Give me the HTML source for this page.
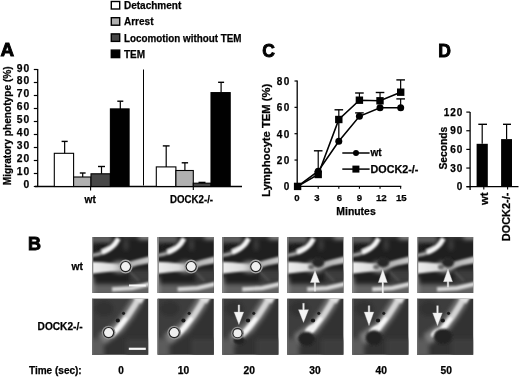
<!DOCTYPE html>
<html><head><meta charset="utf-8"><style>
html,body{margin:0;padding:0;background:#fff;}
body{width:520px;height:378px;overflow:hidden;}
svg{display:block;}
</style></head><body>
<svg width="520" height="378" viewBox="0 0 520 378" font-family="Liberation Sans" font-weight="bold">
<rect width="520" height="378" fill="#fff"/>
<defs>
<filter id="b1" x="-20%" y="-20%" width="140%" height="140%"><feGaussianBlur stdDeviation="1.3"/></filter>
<filter id="b2" x="-20%" y="-20%" width="140%" height="140%"><feGaussianBlur stdDeviation="2.2"/></filter>
<filter id="b05" x="-20%" y="-20%" width="140%" height="140%"><feGaussianBlur stdDeviation="0.6"/></filter>
<linearGradient id="band1" x1="0" y1="0" x2="1" y2="0">
 <stop offset="0" stop-color="#eeeeee"/><stop offset="0.38" stop-color="#dcdcdc"/><stop offset="0.55" stop-color="#a6a6a6"/><stop offset="0.75" stop-color="#b8b8b8"/><stop offset="1" stop-color="#c8c8c8"/>
</linearGradient>
<linearGradient id="r2bg" x1="0" y1="0" x2="1" y2="1">
 <stop offset="0" stop-color="#3e3e3e"/><stop offset="0.5" stop-color="#6a6a6a"/><stop offset="1" stop-color="#8a8a8a"/>
</linearGradient>
<linearGradient id="r2dk" x1="0" y1="0" x2="0" y2="1">
 <stop offset="0" stop-color="#2e2e2e"/><stop offset="1" stop-color="#4a4a4a"/>
</linearGradient>
<clipPath id="tc"><rect x="0" y="0" width="56.2" height="56"/></clipPath>
<g id="s1">
 <rect x="-3" y="-3" width="63" height="63" fill="#1f1f1f"/>
 <g filter="url(#b2)">
  <rect x="-2" y="-2" width="22" height="8" fill="#5e5e5e"/>
  <rect x="47" y="-2" width="12" height="4.5" fill="#9a9a9a"/>
  <rect x="28" y="-2" width="19" height="3" fill="#444"/>
  <rect x="32.5" y="3" width="3" height="10" fill="#4e4e4e"/>
  <rect x="38" y="33" width="22" height="12" fill="#3e3e3e"/>
  <rect x="-2" y="47" width="62" height="12" fill="#626262"/>
  <rect x="-2" y="40" width="4" height="18" fill="#8a8a8a"/>
  <ellipse cx="28" cy="30" rx="9" ry="6" fill="#909090"/>
 </g>
 <g filter="url(#b1)">
  <ellipse cx="11" cy="10.5" rx="7" ry="3.2" fill="#1e1e1e"/>
  <path d="M-2,24.8 L10,25.3 L20,26.3 L27,27.5 L34,25.5 L45,22.5 L58,19.3 L58,26 L45,28.5 L38,31 L28,33.5 L20,34.5 L10,35.6 L-2,37.2 Z" fill="url(#band1)"/>
  <path d="M-2,19 C4,18.2 9,16.8 14,14.5" fill="none" stroke="#a0a0a0" stroke-width="3.4"/>
  <path d="M10,15.5 C16,13.5 20,10.5 23,7 L26.5,1.5" fill="none" stroke="#f4f4f4" stroke-width="5"/>
  <path d="M20,52.5 L40,51.2 L58,47" fill="none" stroke="#d6d6d6" stroke-width="4.2"/>
  <path d="M38,35 L47,44" stroke="#505050" stroke-width="2.2"/>
 </g>
 <rect x="0" y="0" width="1.3" height="56" fill="#8c8c8c" filter="url(#b05)"/>
</g>
<g id="s2">
 <rect x="-3" y="-3" width="63" height="63" fill="#323232"/>
 <g filter="url(#b2)">
  <path d="M-3,-3 L50,-3 L22,37 L-3,44 Z" fill="#3c3c3c"/>
  <rect x="-3" y="40" width="15" height="19" fill="#5c5c5c"/>
  <rect x="34" y="40" width="26" height="19" fill="#3e3e3e"/>
  <path d="M10,41 L27,29 L36,17 L43,6 L47,-2" fill="none" stroke="#7e7e7e" stroke-width="11"/>
  <ellipse cx="12" cy="10" rx="10" ry="8" fill="#323232"/>
 </g>
 <g filter="url(#b1)">
  <path d="M19,37 L27,29 L36,17 L43,6 L47,-1" fill="none" stroke="#d4d4d4" stroke-width="5.8"/>
  <path d="M40,-2 L54,-2 L49,5 Z" fill="#e0e0e0"/>
  <path d="M22,34 L34,19" fill="none" stroke="#f6f6f6" stroke-width="5"/>
 </g>
 <g filter="url(#b05)">
  <circle cx="25.8" cy="21.8" r="2.1" fill="#151515"/>
  <circle cx="31.5" cy="14.6" r="1.6" fill="#1e1e1e"/>
 </g>
 <rect x="0" y="0" width="1.3" height="56" fill="#6a6a6a" filter="url(#b05)"/>
</g>
</defs>
<g transform="translate(92,236.9)" clip-path="url(#tc)"><use href="#s1"/>
<g filter="url(#b05)"><circle cx="33.6" cy="29.7" r="7.0" fill="#a8a8a8"/><circle cx="33.6" cy="29.7" r="5.6" fill="#222"/><circle cx="33.6" cy="29.7" r="4.5" fill="#f0f0f0"/></g>
<rect x="37" y="47.6" width="16.8" height="2" fill="#f8f8f8"/>
</g>
<g transform="translate(92,298.7)" clip-path="url(#tc)"><use href="#s2"/>
<g filter="url(#b05)"><circle cx="16.6" cy="33.9" r="6.9" fill="#909090"/><circle cx="16.6" cy="33.9" r="5.6" fill="#222"/><circle cx="16.6" cy="33.9" r="4.5" fill="#f0f0f0"/></g>
<rect x="36.8" y="49" width="17" height="2.2" fill="#f8f8f8"/>
</g>
<g transform="translate(157.6,236.9)" clip-path="url(#tc)"><use href="#s1"/>
<g filter="url(#b05)"><circle cx="33.6" cy="29.7" r="7.0" fill="#a8a8a8"/><circle cx="33.6" cy="29.7" r="5.6" fill="#222"/><circle cx="33.6" cy="29.7" r="4.5" fill="#f0f0f0"/></g>
</g>
<g transform="translate(157.6,298.7)" clip-path="url(#tc)"><use href="#s2"/>
<g filter="url(#b05)"><circle cx="16.6" cy="33.9" r="6.9" fill="#909090"/><circle cx="16.6" cy="33.9" r="5.6" fill="#222"/><circle cx="16.6" cy="33.9" r="4.5" fill="#f0f0f0"/></g>
</g>
<g transform="translate(222.2,236.9)" clip-path="url(#tc)"><use href="#s1"/>
<g filter="url(#b05)"><circle cx="33.6" cy="29.7" r="7.0" fill="#a8a8a8"/><circle cx="33.6" cy="29.7" r="5.6" fill="#222"/><circle cx="33.6" cy="29.7" r="4.5" fill="#f0f0f0"/></g>
</g>
<g transform="translate(222.2,298.7)" clip-path="url(#tc)"><use href="#s2"/>
<g filter="url(#b1)"><ellipse cx="17" cy="42" rx="6" ry="4" fill="#242424"/></g>
<g filter="url(#b05)"><circle cx="15.3" cy="34.5" r="6.4" fill="#909090"/><circle cx="15.3" cy="34.5" r="5.1" fill="#222"/><circle cx="15.3" cy="34.5" r="4.0" fill="#f0f0f0"/></g>
<path d="M16.7,25.8 L21.5,13.4 L17.5,13.4 L17.5,6.2 L15.899999999999999,6.2 L15.899999999999999,13.4 L11.899999999999999,13.4 Z" fill="#f4f4f4" stroke="#ccc" stroke-width="0.4"/>
</g>
<g transform="translate(287.2,236.9)" clip-path="url(#tc)"><use href="#s1"/>
<g filter="url(#b1)"><ellipse cx="31" cy="25.5" rx="6" ry="5" fill="#282828"/><ellipse cx="24" cy="30" rx="3" ry="2.5" fill="#6a6a6a"/></g>
<path d="M27.8,33.7 L32.4,45.6 L28.6,45.6 L28.6,54.3 L27.0,54.3 L27.0,45.6 L23.200000000000003,45.6 Z" fill="#f4f4f4" stroke="#ccc" stroke-width="0.4"/>
</g>
<g transform="translate(287.2,298.7)" clip-path="url(#tc)"><use href="#s2"/>
<g filter="url(#b1)"><ellipse cx="23" cy="30" rx="6" ry="3" transform="rotate(-35 23 30)" fill="#f0f0f0"/></g>
<g filter="url(#b1)"><ellipse cx="19.2" cy="40.0" rx="8.5" ry="7" fill="#222"/></g>
<path d="M16.3,23.7 L21.3,11.0 L17.1,11.0 L17.1,4.6 L15.5,4.6 L15.5,11.0 L11.3,11.0 Z" fill="#f4f4f4" stroke="#ccc" stroke-width="0.4"/>
</g>
<g transform="translate(352.2,236.9)" clip-path="url(#tc)"><use href="#s1"/>
<g filter="url(#b1)"><ellipse cx="31" cy="25.5" rx="6" ry="5" fill="#282828"/><ellipse cx="24" cy="30" rx="3" ry="2.5" fill="#6a6a6a"/></g>
<path d="M30.6,32.6 L35.1,45.6 L31.400000000000002,45.6 L31.400000000000002,56 L29.8,56 L29.8,45.6 L26.1,45.6 Z" fill="#f4f4f4" stroke="#ccc" stroke-width="0.4"/>
</g>
<g transform="translate(352.2,298.7)" clip-path="url(#tc)"><use href="#s2"/>
<g filter="url(#b1)"><ellipse cx="22" cy="31" rx="6" ry="3" transform="rotate(-35 22 31)" fill="#f0f0f0"/></g>
<g filter="url(#b1)"><ellipse cx="21.8" cy="39.0" rx="8.5" ry="7.5" fill="#222"/></g>
<path d="M16.8,26.9 L21.6,13.4 L17.6,13.4 L17.6,7.0 L16.0,7.0 L16.0,13.4 L12.0,13.4 Z" fill="#f4f4f4" stroke="#ccc" stroke-width="0.4"/>
</g>
<g transform="translate(417.0,236.9)" clip-path="url(#tc)"><use href="#s1"/>
<g filter="url(#b1)"><ellipse cx="31" cy="25.5" rx="6" ry="5" fill="#282828"/><ellipse cx="24" cy="30" rx="3" ry="2.5" fill="#6a6a6a"/></g>
<path d="M31.0,32.1 L35.5,44.8 L31.8,44.8 L31.8,50.4 L30.2,50.4 L30.2,44.8 L26.5,44.8 Z" fill="#f4f4f4" stroke="#ccc" stroke-width="0.4"/>
</g>
<g transform="translate(417.0,298.7)" clip-path="url(#tc)"><use href="#s2"/>
<g filter="url(#b1)"><ellipse cx="19" cy="34" rx="6" ry="3" transform="rotate(-35 19 34)" fill="#f0f0f0"/></g>
<g filter="url(#b1)"><ellipse cx="26.0" cy="37.7" rx="9.4" ry="7.6" fill="#222"/></g>
<path d="M20.5,26.9 L25.3,14.2 L21.3,14.2 L21.3,7.0 L19.7,7.0 L19.7,14.2 L15.7,14.2 Z" fill="#f4f4f4" stroke="#ccc" stroke-width="0.4"/>
</g>
<g opacity="0.999" stroke-linecap="butt">
<text x="0.4" y="56.4" font-size="17.5" text-anchor="start" textLength="13.6" lengthAdjust="spacingAndGlyphs" stroke="#000" stroke-width="0.9" >A</text>
<rect x="111.3" y="1.5" width="8.4" height="7.5" fill="#ffffff" stroke="#000" stroke-width="1.4"/>
<text x="124" y="9.2" font-size="10" text-anchor="start" stroke="#000" stroke-width="0.25" >Detachment</text>
<rect x="111.3" y="17.7" width="8.4" height="7.5" fill="#b0b0b0" stroke="#000" stroke-width="1.4"/>
<text x="124" y="25.4" font-size="10" text-anchor="start" stroke="#000" stroke-width="0.25" >Arrest</text>
<rect x="111.3" y="33.9" width="8.4" height="7.5" fill="#474747" stroke="#000" stroke-width="1.4"/>
<text x="124" y="41.599999999999994" font-size="10" text-anchor="start" textLength="117.5" lengthAdjust="spacingAndGlyphs" stroke="#000" stroke-width="0.25" >Locomotion without TEM</text>
<rect x="111.3" y="50.099999999999994" width="8.4" height="7.5" fill="#000000" stroke="#000" stroke-width="1.4"/>
<text x="124" y="57.8" font-size="10" text-anchor="start" stroke="#000" stroke-width="0.25" >TEM</text>
<line x1="37.7" y1="68.9" x2="37.7" y2="187.1" stroke="#000" stroke-width="1.3"/>
<line x1="33.8" y1="186.5" x2="37.7" y2="186.5" stroke="#000" stroke-width="1.2"/>
<text x="30.1" y="187.9" font-size="10.3" text-anchor="end" stroke="#000" stroke-width="0.25" letter-spacing="0.9">0</text>
<line x1="33.8" y1="173.5" x2="37.7" y2="173.5" stroke="#000" stroke-width="1.2"/>
<text x="30.1" y="174.9" font-size="10.3" text-anchor="end" stroke="#000" stroke-width="0.25" letter-spacing="0.9">10</text>
<line x1="33.8" y1="160.5" x2="37.7" y2="160.5" stroke="#000" stroke-width="1.2"/>
<text x="30.1" y="161.9" font-size="10.3" text-anchor="end" stroke="#000" stroke-width="0.25" letter-spacing="0.9">20</text>
<line x1="33.8" y1="147.5" x2="37.7" y2="147.5" stroke="#000" stroke-width="1.2"/>
<text x="30.1" y="148.9" font-size="10.3" text-anchor="end" stroke="#000" stroke-width="0.25" letter-spacing="0.9">30</text>
<line x1="33.8" y1="134.5" x2="37.7" y2="134.5" stroke="#000" stroke-width="1.2"/>
<text x="30.1" y="135.9" font-size="10.3" text-anchor="end" stroke="#000" stroke-width="0.25" letter-spacing="0.9">40</text>
<line x1="33.8" y1="121.5" x2="37.7" y2="121.5" stroke="#000" stroke-width="1.2"/>
<text x="30.1" y="122.9" font-size="10.3" text-anchor="end" stroke="#000" stroke-width="0.25" letter-spacing="0.9">50</text>
<line x1="33.8" y1="108.5" x2="37.7" y2="108.5" stroke="#000" stroke-width="1.2"/>
<text x="30.1" y="109.9" font-size="10.3" text-anchor="end" stroke="#000" stroke-width="0.25" letter-spacing="0.9">60</text>
<line x1="33.8" y1="95.5" x2="37.7" y2="95.5" stroke="#000" stroke-width="1.2"/>
<text x="30.1" y="96.9" font-size="10.3" text-anchor="end" stroke="#000" stroke-width="0.25" letter-spacing="0.9">70</text>
<line x1="33.8" y1="82.5" x2="37.7" y2="82.5" stroke="#000" stroke-width="1.2"/>
<text x="30.1" y="83.9" font-size="10.3" text-anchor="end" stroke="#000" stroke-width="0.25" letter-spacing="0.9">80</text>
<line x1="33.8" y1="69.5" x2="37.7" y2="69.5" stroke="#000" stroke-width="1.2"/>
<text x="30.1" y="71.7" font-size="10.3" text-anchor="end" stroke="#000" stroke-width="0.25" letter-spacing="0.9">90</text>
<line x1="35" y1="186.5" x2="242" y2="186.5" stroke="#000" stroke-width="1.3"/>
<line x1="90.6" y1="186.5" x2="90.6" y2="190.5" stroke="#000" stroke-width="1.1"/>
<line x1="193.3" y1="186.5" x2="193.3" y2="190.0" stroke="#000" stroke-width="1.1"/>
<line x1="143.5" y1="69.5" x2="143.5" y2="185.5" stroke="#000" stroke-width="1.0"/>
<rect x="54.3" y="153.3" width="19.299999999999997" height="33.19999999999999" fill="#fff" stroke="#000" stroke-width="1.1"/>
<line x1="64.65" y1="153.3" x2="64.65" y2="141.4" stroke="#000" stroke-width="1.2"/>
<line x1="61.6" y1="141.4" x2="67.7" y2="141.4" stroke="#000" stroke-width="1.4"/>
<rect x="73.6" y="177.0" width="17.400000000000006" height="9.5" fill="#b0b0b0" stroke="#000" stroke-width="1.1"/>
<line x1="82.69999999999999" y1="177.0" x2="82.69999999999999" y2="173.0" stroke="#000" stroke-width="1.2"/>
<line x1="79.8" y1="173.0" x2="85.6" y2="173.0" stroke="#000" stroke-width="1.4"/>
<rect x="91.0" y="173.8" width="19.400000000000006" height="12.699999999999989" fill="#474747" stroke="#000" stroke-width="1.1"/>
<line x1="101.5" y1="173.8" x2="101.5" y2="166.5" stroke="#000" stroke-width="1.2"/>
<line x1="98.0" y1="166.5" x2="105.0" y2="166.5" stroke="#000" stroke-width="1.4"/>
<rect x="110.4" y="108.9" width="18.69999999999999" height="77.6" fill="#000" stroke="#000" stroke-width="1.1"/>
<line x1="120.3" y1="108.9" x2="120.3" y2="101.2" stroke="#000" stroke-width="1.2"/>
<line x1="117.3" y1="101.2" x2="123.3" y2="101.2" stroke="#000" stroke-width="1.4"/>
<rect x="156.3" y="166.9" width="19.599999999999994" height="19.599999999999994" fill="#fff" stroke="#000" stroke-width="1.1"/>
<line x1="166.2" y1="166.9" x2="166.2" y2="145.9" stroke="#000" stroke-width="1.2"/>
<line x1="162.8" y1="145.9" x2="169.6" y2="145.9" stroke="#000" stroke-width="1.4"/>
<rect x="175.9" y="170.5" width="17.400000000000006" height="16.0" fill="#b0b0b0" stroke="#000" stroke-width="1.1"/>
<line x1="184.89999999999998" y1="170.5" x2="184.89999999999998" y2="162.8" stroke="#000" stroke-width="1.2"/>
<line x1="181.7" y1="162.8" x2="188.1" y2="162.8" stroke="#000" stroke-width="1.4"/>
<rect x="193.3" y="183.2" width="17.69999999999999" height="3.3000000000000114" fill="#474747" stroke="#000" stroke-width="1.1"/>
<line x1="202.0" y1="183.2" x2="202.0" y2="182.4" stroke="#000" stroke-width="1.2"/>
<line x1="198.5" y1="182.4" x2="205.5" y2="182.4" stroke="#000" stroke-width="1.4"/>
<rect x="211.0" y="92.6" width="19.19999999999999" height="93.9" fill="#000" stroke="#000" stroke-width="1.1"/>
<line x1="221.1" y1="92.6" x2="221.1" y2="82.3" stroke="#000" stroke-width="1.2"/>
<line x1="218.1" y1="82.3" x2="224.1" y2="82.3" stroke="#000" stroke-width="1.4"/>
<text x="90.2" y="202.8" font-size="10.2" text-anchor="middle" stroke="#000" stroke-width="0.25" >wt</text>
<text x="191.6" y="202.8" font-size="10" text-anchor="middle" textLength="43" lengthAdjust="spacingAndGlyphs" stroke="#000" stroke-width="0.25" >DOCK2-/-</text>
<text transform="translate(10.6,185.3) rotate(-90)" font-size="10" stroke="#000" stroke-width="0.25" textLength="119" lengthAdjust="spacingAndGlyphs">Migratory phenotype (%)</text>
<text x="262.3" y="57" font-size="17.5" text-anchor="start" stroke="#000" stroke-width="0.9" >C</text>
<line x1="297.2" y1="80.6" x2="297.2" y2="186.9" stroke="#000" stroke-width="1.3"/>
<line x1="294.5" y1="186.4" x2="297.2" y2="186.4" stroke="#000" stroke-width="1.2"/>
<text x="290.8" y="190.4" font-size="10" text-anchor="end" stroke="#000" stroke-width="0.25" letter-spacing="1.4">0</text>
<line x1="294.5" y1="160.05" x2="297.2" y2="160.05" stroke="#000" stroke-width="1.2"/>
<text x="290.8" y="164.05" font-size="10" text-anchor="end" stroke="#000" stroke-width="0.25" letter-spacing="1.4">20</text>
<line x1="294.5" y1="133.7" x2="297.2" y2="133.7" stroke="#000" stroke-width="1.2"/>
<text x="290.8" y="137.7" font-size="10" text-anchor="end" stroke="#000" stroke-width="0.25" letter-spacing="1.4">40</text>
<line x1="294.5" y1="107.35" x2="297.2" y2="107.35" stroke="#000" stroke-width="1.2"/>
<text x="290.8" y="111.35" font-size="10" text-anchor="end" stroke="#000" stroke-width="0.25" letter-spacing="1.4">60</text>
<line x1="294.5" y1="81.0" x2="297.2" y2="81.0" stroke="#000" stroke-width="1.2"/>
<text x="290.8" y="85.0" font-size="10" text-anchor="end" stroke="#000" stroke-width="0.25" letter-spacing="1.4">80</text>
<line x1="295.5" y1="186.4" x2="401.3" y2="186.4" stroke="#000" stroke-width="1.3"/>
<line x1="318.21000000000004" y1="186.4" x2="318.21000000000004" y2="188.8" stroke="#000" stroke-width="1.1"/>
<line x1="338.82000000000005" y1="186.4" x2="338.82000000000005" y2="188.8" stroke="#000" stroke-width="1.1"/>
<line x1="359.43" y1="186.4" x2="359.43" y2="188.8" stroke="#000" stroke-width="1.1"/>
<line x1="380.04" y1="186.4" x2="380.04" y2="188.8" stroke="#000" stroke-width="1.1"/>
<line x1="400.65000000000003" y1="186.4" x2="400.65000000000003" y2="188.8" stroke="#000" stroke-width="1.1"/>
<text x="296.8" y="201.3" font-size="9.6" text-anchor="middle" stroke="#000" stroke-width="0.25" >0</text>
<text x="316.8" y="201.3" font-size="9.6" text-anchor="middle" stroke="#000" stroke-width="0.25" >3</text>
<text x="339.3" y="201.3" font-size="9.6" text-anchor="middle" stroke="#000" stroke-width="0.25" >6</text>
<text x="359.3" y="201.3" font-size="9.6" text-anchor="middle" stroke="#000" stroke-width="0.25" >9</text>
<text x="381.3" y="201.3" font-size="9.6" text-anchor="middle" textLength="10.8" lengthAdjust="spacingAndGlyphs" stroke="#000" stroke-width="0.25" >12</text>
<text x="401.3" y="201.3" font-size="9.6" text-anchor="middle" textLength="10.8" lengthAdjust="spacingAndGlyphs" stroke="#000" stroke-width="0.25" >15</text>
<text x="356" y="215" font-size="10" text-anchor="middle" textLength="39.4" lengthAdjust="spacingAndGlyphs" stroke="#000" stroke-width="0.25" >Minutes</text>
<text transform="translate(270.2,196.8) rotate(-90)" font-size="10" stroke="#000" stroke-width="0.25" textLength="113" lengthAdjust="spacingAndGlyphs">Lymphocyte TEM (%)</text>
<line x1="338.82000000000005" y1="141.3415" x2="338.82000000000005" y2="119.47100000000002" stroke="#000" stroke-width="1.3"/>
<line x1="318.21000000000004" y1="174.54250000000002" x2="318.21000000000004" y2="150.8" stroke="#000" stroke-width="1.2"/>
<line x1="313.91" y1="150.8" x2="322.51000000000005" y2="150.8" stroke="#000" stroke-width="1.4"/>
<line x1="338.82000000000005" y1="119.47100000000002" x2="338.82000000000005" y2="109.8" stroke="#000" stroke-width="1.2"/>
<line x1="334.52000000000004" y1="109.8" x2="343.12000000000006" y2="109.8" stroke="#000" stroke-width="1.4"/>
<line x1="359.43" y1="100.2355" x2="359.43" y2="93.0" stroke="#000" stroke-width="1.2"/>
<line x1="355.13" y1="93.0" x2="363.73" y2="93.0" stroke="#000" stroke-width="1.4"/>
<line x1="380.04" y1="100.76250000000002" x2="380.04" y2="92.5" stroke="#000" stroke-width="1.2"/>
<line x1="375.74" y1="92.5" x2="384.34000000000003" y2="92.5" stroke="#000" stroke-width="1.4"/>
<line x1="400.65000000000003" y1="92.19875000000002" x2="400.65000000000003" y2="79.9" stroke="#000" stroke-width="1.2"/>
<line x1="396.35" y1="79.9" x2="404.95000000000005" y2="79.9" stroke="#000" stroke-width="1.4"/>
<line x1="400.65000000000003" y1="107.74525000000001" x2="400.65000000000003" y2="98.9" stroke="#000" stroke-width="1.2"/>
<line x1="396.35" y1="98.9" x2="404.95000000000005" y2="98.9" stroke="#000" stroke-width="1.4"/>
<line x1="359.43" y1="116.30900000000001" x2="359.43" y2="112.9" stroke="#000" stroke-width="1.2"/>
<line x1="355.13" y1="112.9" x2="363.73" y2="112.9" stroke="#000" stroke-width="1.4"/>
<polyline points="297.6,186.4 318.2,171.2 338.8,141.3 359.4,116.3 380.0,107.7 400.7,107.7" fill="none" stroke="#000" stroke-width="1.6"/>
<polyline points="297.6,186.4 318.2,174.5 338.8,119.5 359.4,100.2 380.0,100.8 400.7,92.2" fill="none" stroke="#000" stroke-width="1.6"/>
<circle cx="297.6" cy="186.4" r="3.5" fill="#000"/>
<circle cx="318.2" cy="171.2" r="3.5" fill="#000"/>
<circle cx="338.8" cy="141.3" r="3.5" fill="#000"/>
<circle cx="359.4" cy="116.3" r="3.5" fill="#000"/>
<circle cx="380.0" cy="107.7" r="3.5" fill="#000"/>
<circle cx="400.7" cy="107.7" r="3.5" fill="#000"/>
<rect x="293.9" y="182.7" width="7.4" height="7.4" fill="#000"/>
<rect x="314.5" y="170.8" width="7.4" height="7.4" fill="#000"/>
<rect x="335.1" y="115.8" width="7.4" height="7.4" fill="#000"/>
<rect x="355.7" y="96.5" width="7.4" height="7.4" fill="#000"/>
<rect x="376.3" y="97.1" width="7.4" height="7.4" fill="#000"/>
<rect x="397.0" y="88.5" width="7.4" height="7.4" fill="#000"/>
<line x1="342.3" y1="153" x2="369.6" y2="153" stroke="#000" stroke-width="1.5"/>
<circle cx="356" cy="153" r="3" fill="#000"/>
<text x="370.5" y="156.2" font-size="10" text-anchor="start" textLength="11.2" lengthAdjust="spacingAndGlyphs" stroke="#000" stroke-width="0.25" >wt</text>
<line x1="342.3" y1="169.1" x2="369.6" y2="169.1" stroke="#000" stroke-width="1.5"/>
<rect x="352.4" y="165.6" width="7" height="7" fill="#000"/>
<text x="370.5" y="172.6" font-size="10" text-anchor="start" textLength="47.8" lengthAdjust="spacingAndGlyphs" stroke="#000" stroke-width="0.25" >DOCK2-/-</text>
<text x="438.3" y="56.6" font-size="17.5" text-anchor="start" stroke="#000" stroke-width="0.9" >D</text>
<line x1="470.1" y1="112.0" x2="470.1" y2="190" stroke="#000" stroke-width="1.3"/>
<line x1="466.3" y1="186.7" x2="470.1" y2="186.7" stroke="#000" stroke-width="1.2"/>
<text x="463.4" y="190.29999999999998" font-size="10" text-anchor="end" stroke="#000" stroke-width="0.25" letter-spacing="1">0</text>
<line x1="466.3" y1="168.04999999999998" x2="470.1" y2="168.04999999999998" stroke="#000" stroke-width="1.2"/>
<text x="463.4" y="171.64999999999998" font-size="10" text-anchor="end" stroke="#000" stroke-width="0.25" letter-spacing="1">30</text>
<line x1="466.3" y1="149.39999999999998" x2="470.1" y2="149.39999999999998" stroke="#000" stroke-width="1.2"/>
<text x="463.4" y="152.99999999999997" font-size="10" text-anchor="end" stroke="#000" stroke-width="0.25" letter-spacing="1">60</text>
<line x1="466.3" y1="130.75" x2="470.1" y2="130.75" stroke="#000" stroke-width="1.2"/>
<text x="463.4" y="134.35" font-size="10" text-anchor="end" stroke="#000" stroke-width="0.25" letter-spacing="1">90</text>
<line x1="466.3" y1="112.1" x2="470.1" y2="112.1" stroke="#000" stroke-width="1.2"/>
<text x="463.4" y="115.69999999999999" font-size="10" text-anchor="end" stroke="#000" stroke-width="0.25" letter-spacing="1">120</text>
<line x1="466.6" y1="186.7" x2="518.5" y2="186.7" stroke="#000" stroke-width="1.3"/>
<line x1="483.8" y1="186.7" x2="483.8" y2="189.6" stroke="#000" stroke-width="1.1"/>
<line x1="507.6" y1="186.7" x2="507.6" y2="189.6" stroke="#000" stroke-width="1.1"/>
<rect x="476.6" y="143.8" width="11.199999999999989" height="42.89999999999998" fill="#000"/>
<line x1="482.2" y1="143.8" x2="482.2" y2="124.3" stroke="#000" stroke-width="1.2"/>
<line x1="478.3" y1="124.3" x2="487.0" y2="124.3" stroke="#000" stroke-width="1.4"/>
<rect x="501.1" y="139.1" width="10.899999999999977" height="47.599999999999994" fill="#000"/>
<line x1="506.6" y1="139.1" x2="506.6" y2="124.3" stroke="#000" stroke-width="1.2"/>
<line x1="503.0" y1="124.3" x2="511.0" y2="124.3" stroke="#000" stroke-width="1.4"/>
<text transform="translate(446.6,169.5) rotate(-90)" font-size="10" stroke="#000" stroke-width="0.25" textLength="42.8" lengthAdjust="spacingAndGlyphs">Seconds</text>
<text transform="translate(487.6,192.5) rotate(-90)" font-size="10.5" stroke="#000" stroke-width="0.25" text-anchor="end" textLength="12.6" lengthAdjust="spacingAndGlyphs">wt</text>
<text transform="translate(509.6,192.6) rotate(-90)" font-size="10" stroke="#000" stroke-width="0.25" text-anchor="end" textLength="48.7" lengthAdjust="spacingAndGlyphs">DOCK2-/-</text>
<text x="27.9" y="250.3" font-size="18" text-anchor="start" stroke="#000" stroke-width="0.9" >B</text>
<text x="83" y="269.7" font-size="10.3" text-anchor="end" stroke="#000" stroke-width="0.25" >wt</text>
<text x="82.6" y="329.8" font-size="10" text-anchor="end" textLength="45" lengthAdjust="spacingAndGlyphs" stroke="#000" stroke-width="0.25" >DOCK2-/-</text>
<text x="29" y="374.3" font-size="10" text-anchor="start" textLength="52.7" lengthAdjust="spacingAndGlyphs" stroke="#000" stroke-width="0.25" >Time (sec):</text>
<text x="121.0" y="374.2" font-size="10" text-anchor="middle" stroke="#000" stroke-width="0.25" >0</text>
<text x="183.5" y="374.2" font-size="10" text-anchor="middle" textLength="11.4" lengthAdjust="spacingAndGlyphs" stroke="#000" stroke-width="0.25" >10</text>
<text x="249.3" y="374.2" font-size="10" text-anchor="middle" textLength="11.4" lengthAdjust="spacingAndGlyphs" stroke="#000" stroke-width="0.25" >20</text>
<text x="315.0" y="374.2" font-size="10" text-anchor="middle" textLength="11.4" lengthAdjust="spacingAndGlyphs" stroke="#000" stroke-width="0.25" >30</text>
<text x="381.2" y="374.2" font-size="10" text-anchor="middle" textLength="11.4" lengthAdjust="spacingAndGlyphs" stroke="#000" stroke-width="0.25" >40</text>
<text x="446.2" y="374.2" font-size="10" text-anchor="middle" textLength="11.4" lengthAdjust="spacingAndGlyphs" stroke="#000" stroke-width="0.25" >50</text>
</g>
</svg>
</body></html>
